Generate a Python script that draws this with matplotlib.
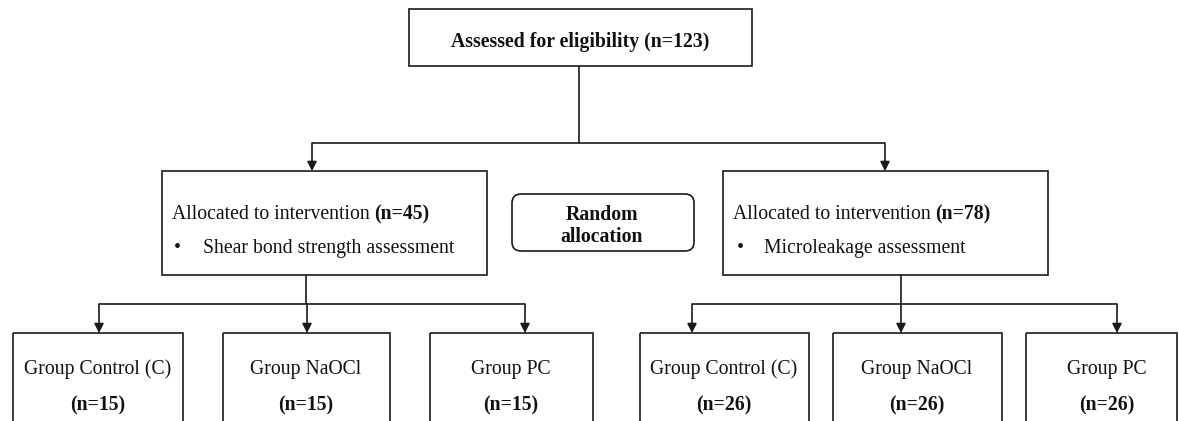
import matplotlib
matplotlib.use("Agg")
import matplotlib.pyplot as plt
from matplotlib.patches import Rectangle, FancyBboxPatch

# ---- content ----
top_label = "Assessed for eligibility (n=123)"
arm_prefix = "Allocated to intervention"
arm_n = [45, 78]
arm_bullets = ["Shear bond strength assessment", "Microleakage assessment"]
random_label = ["Random", "allocation"]
group_names = ["Group Control (C)", "Group NaOCl", "Group PC"]
group_n = [[15, 15, 15], [26, 26, 26]]

W, H = 1179, 421
fig = plt.figure(figsize=(W / 100, H / 100), dpi=100)
ax = fig.add_axes([0, 0, 1, 1])
ax.set_xlim(0, W)
ax.set_ylim(H, 0)
ax.axis("off")

FONT = "Liberation Serif"
FS = 14.2
LW = 1.2
EC = "#1a1a1a"
TC = "#111111"
DY = 2.5  # vertical text offset

def box(x0, y0, x1, y1):
    ax.add_patch(Rectangle((x0, y0), x1 - x0, y1 - y0, fill=False,
                           ec=EC, lw=LW, clip_on=True))

def line(xs, ys):
    ax.plot(xs, ys, color=EC, lw=LW, solid_capstyle="butt")

def arrow(x, y0, y1):
    ax.annotate("", xy=(x, y1), xytext=(x, y0),
                arrowprops=dict(arrowstyle="-|>,head_length=0.55,head_width=0.28",
                                color=EC, lw=LW, shrinkA=0, shrinkB=0))

def txt(x, y, s, bold=False, ha="center"):
    return ax.text(x, y + DY, s, fontsize=FS, family=FONT,
                   fontweight="bold" if bold else "normal",
                   ha=ha, va="center", color=TC)

# top box
box(409, 9, 752, 66)
txt(580, 39, top_label, bold=True)
line([579, 579], [66, 143])
line([312, 885], [143, 143])
arrow(312, 143, 171)
arrow(885, 143, 171)

# arm boxes
arm_boxes = [(162, 171, 487, 275), (723, 171, 1048, 275)]
arm_text_x = [172, 733]
bullet_x = [174, 737]
bullet_text_x = [203, 764]
fig.canvas.draw()
renderer = fig.canvas.get_renderer()
for i, (x0, y0, x1, y1) in enumerate(arm_boxes):
    box(x0, y0, x1, y1)
    t = txt(arm_text_x[i], 212, arm_prefix, ha="left")
    bb = t.get_window_extent(renderer=renderer)
    xend = ax.transData.inverted().transform((bb.x1, bb.y0))[0]
    txt(xend + 4.5, 212, f"(n={arm_n[i]})", bold=True, ha="left")
    txt(bullet_x[i], 246, "\u2022", ha="left")
    txt(bullet_text_x[i], 246, arm_bullets[i], ha="left")

# random allocation rounded box
ax.add_patch(FancyBboxPatch((512, 194), 694 - 512, 251 - 194,
                            boxstyle="round,pad=0,rounding_size=9",
                            fill=False, ec=EC, lw=LW))
txt(602, 212, random_label[0], bold=True)
txt(602, 235, random_label[1], bold=True)

# branches to groups
stems = [306, 901]
branch = [(99, 307, 525), (692, 901, 1117)]
group_boxes = [[(13, 183), (223, 390), (430, 593)],
               [(640, 809), (833, 1002), (1026, 1177)]]
text_cx = [[98, 306, 511], [724, 917, 1107]]
for a in range(2):
    line([stems[a], stems[a]], [275, 304])
    line([branch[a][0], branch[a][2]], [304, 304])
    for g in range(3):
        arrow(branch[a][g], 304, 333)
        x0, x1 = group_boxes[a][g]
        box(x0, 333, x1, 440)
        txt(text_cx[a][g], 367, group_names[g])
        txt(text_cx[a][g], 403, f"(n={group_n[a][g]})", bold=True)

fig.savefig("out.png", dpi=100, facecolor="white")
